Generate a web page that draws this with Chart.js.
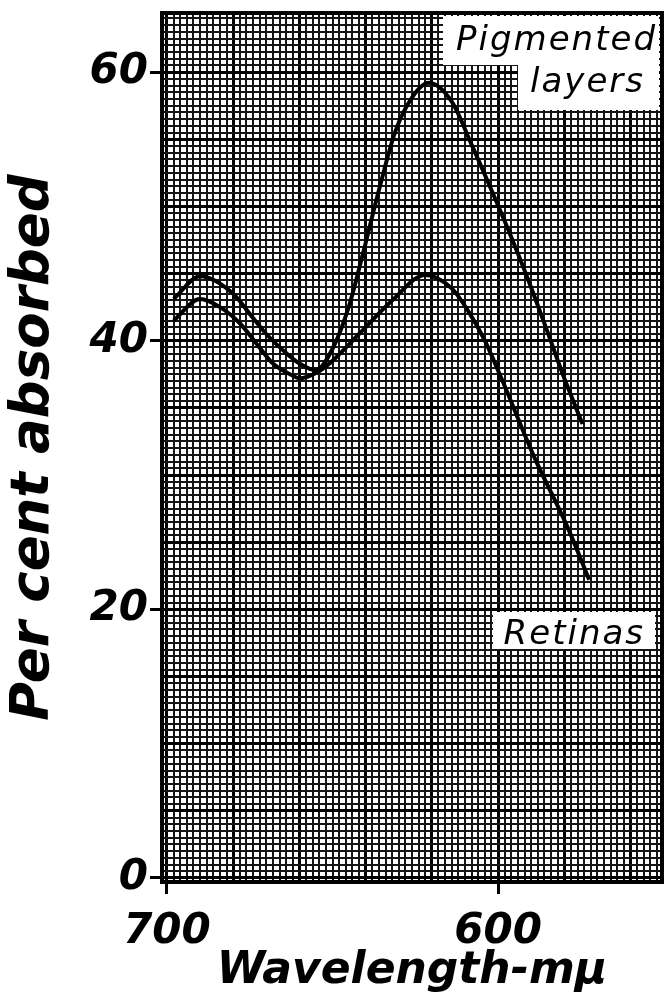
<!DOCTYPE html>
<html>
<head>
<meta charset="utf-8">
<script src="https://cdn.jsdelivr.net/npm/chart.js@4"></script>
<style>
  html, body { margin: 0; padding: 0; background: #fff; }
  #wrap { width: 665px; height: 998px; position: relative; }
</style>
</head>
<body>
<div id="wrap"><canvas id="spectra"></canvas></div>
<script>
// absorption of the pigmented layers (wavelength in mu, percent absorbed)
const pigmentedWl  = [698, 690, 680, 675, 670, 665, 660, 655, 650, 645, 641, 636, 631, 626, 621, 614, 608, 602.5, 597, 591, 585, 580, 574.5];
const pigmentedPct = [43.1, 44.8, 43.5, 42.0, 40.5, 39.3, 38.3, 37.8, 39.4, 42.6, 46.3, 51.2, 55.6, 58.1, 59.2, 57.8, 54.6, 51.5, 48.3, 44.6, 40.6, 37.2, 33.8];

// absorption of the retinas
const retinaWl  = [698, 690, 684, 678, 673, 668, 662, 660, 655, 650, 642, 632, 622, 614, 609, 604, 599, 589, 579, 572.5];
const retinaPct = [41.5, 43.1, 42.5, 41.3, 39.8, 38.3, 37.4, 37.2, 37.6, 38.5, 40.5, 43.0, 44.9, 43.9, 42.2, 40.0, 37.2, 31.3, 26.1, 22.2];

const xLabelTicks = [700, 600];
const yLabelTicks = [0, 20, 40, 60];

const toPoints = (xs, ys) => xs.map((x, i) => ({ x: x, y: ys[i] }));

const boldFont = (size) => ({ family: '"DejaVu Sans"', size: size, style: 'italic', weight: 'bold' });
const isMajorX = (v) => Math.abs(v % 20) < 1e-6;
const isMajorY = (v) => Math.abs(v % 5) < 1e-6;
// unlabelled ticks get a tiny font so they take no room in the layout
const tickFont = (list) => (c) => boldFont(list.includes(c.tick && c.tick.value) ? 42 : 1);

// heavy outline around the graph paper
const frame = {
  id: 'frame',
  afterDatasetsDraw(chart) {
    const { ctx, chartArea: a } = chart;
    ctx.save();
    ctx.strokeStyle = '#000';
    ctx.lineWidth = 4;
    ctx.strokeRect(a.left, a.top, a.right - a.left, a.bottom - a.top);
    ctx.restore();
  }
};

// white boxes with the curve names
const curveNames = {
  id: 'curveNames',
  afterDatasetsDraw(chart) {
    const { ctx, chartArea: a } = chart;
    ctx.save();
    ctx.fillStyle = '#fff';
    ctx.fillRect(a.right - 219, a.top + 3, 216, 49);
    ctx.fillRect(a.right - 144, a.top + 45, 141, 52);
    ctx.fillRect(a.right - 169, a.bottom - 270, 162, 37);
    ctx.fillStyle = '#000';
    ctx.font = 'italic 34px "DejaVu Sans"';
    ctx.letterSpacing = '2px';
    ctx.textBaseline = 'alphabetic';
    ctx.textAlign = 'right';
    ctx.fillText('Pigmented', a.right - 5, a.top + 37);
    ctx.fillText('layers', a.right - 17, a.top + 79);
    ctx.fillText('Retinas', a.right - 17, a.bottom - 238);
    ctx.restore();
  }
};

new Chart(document.getElementById('spectra'), {
  type: 'line',
  data: {
    datasets: [{
      label: 'Pigmented layers',
      data: toPoints(pigmentedWl, pigmentedPct),
      borderColor: '#000',
      borderWidth: 4,
      pointRadius: 0,
      cubicInterpolationMode: 'monotone'
    }, {
      label: 'Retinas',
      data: toPoints(retinaWl, retinaPct),
      borderColor: '#000',
      borderWidth: 4,
      pointRadius: 0,
      cubicInterpolationMode: 'monotone'
    }]
  },
  options: {
    responsive: true,
    maintainAspectRatio: false,
    animation: false,
    layout: { padding: { top: 13, right: 3, left: 0, bottom: 0 } },
    plugins: {
      legend: { display: false },
      tooltip: { enabled: false }
    },
    scales: {
      x: {
        type: 'linear',
        reverse: true,
        min: 550.5,
        max: 701.5,
        afterFit: (scale) => {
          scale.height = 116;
          scale.paddingLeft = 0;
          scale.paddingRight = 0;
        },
        border: { display: false },
        grid: {
          color: (c) => isMajorX(c.tick.value) ? '#000' : '#151515',
          lineWidth: (c) => isMajorX(c.tick.value) ? 3 : 2,
          tickColor: (c) => xLabelTicks.includes(c.tick.value) ? '#000' : 'rgba(0,0,0,0)',
          tickWidth: 3,
          tickLength: 12
        },
        ticks: {
          stepSize: 2,
          includeBounds: false,
          autoSkip: false,
          maxRotation: 0,
          padding: 13,
          color: '#000',
          font: tickFont(xLabelTicks),
          callback: (v) => xLabelTicks.includes(v) ? String(v) : ''
        },
        title: {
          display: true,
          text: 'Wavelength-mμ',
          color: '#000',
          font: boldFont(44),
          padding: { top: 0, bottom: 0 }
        }
      },
      y: {
        min: -0.3,
        max: 64.4,
        afterFit: (scale) => { scale.width = 162; },
        border: { display: false },
        grid: {
          color: (c) => isMajorY(c.tick.value) ? '#000' : '#151515',
          lineWidth: (c) => isMajorY(c.tick.value) ? 3 : 2,
          tickColor: (c) => yLabelTicks.includes(c.tick.value) ? '#000' : 'rgba(0,0,0,0)',
          tickWidth: 3,
          tickLength: 12
        },
        ticks: {
          stepSize: 0.5,
          includeBounds: false,
          autoSkip: false,
          padding: 2,
          color: '#000',
          font: tickFont(yLabelTicks),
          callback: (v) => yLabelTicks.includes(v) ? String(v) : ''
        },
        title: {
          display: true,
          text: 'Per cent absorbed',
          color: '#000',
          font: boldFont(53),
          padding: { top: 2, bottom: 0 }
        }
      }
    }
  },
  plugins: [frame, curveNames]
});
</script>
</body>
</html>
